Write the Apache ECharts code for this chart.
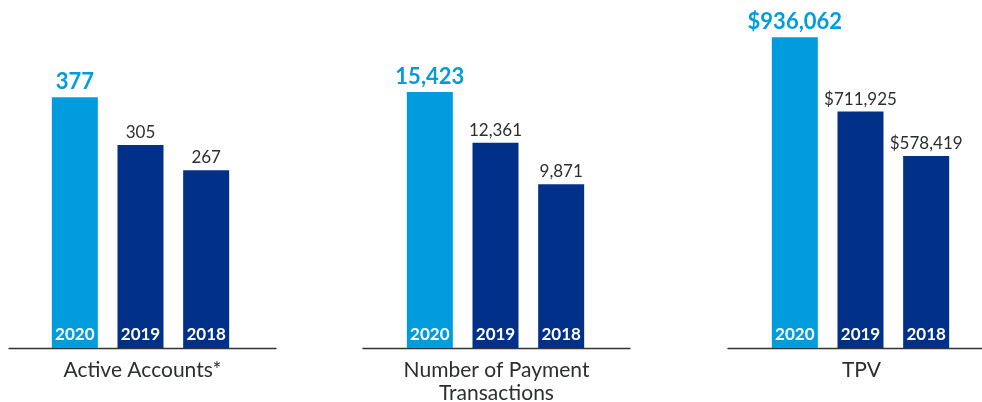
<!DOCTYPE html>
<html>
<head>
<meta charset="utf-8">
<script src="https://cdn.jsdelivr.net/npm/echarts@6/dist/echarts.min.js"></script>
<style>
  html, body { margin: 0; padding: 0; background: #fff; }
  #chart { width: 982px; height: 402px; }
</style>
</head>
<body>
<div id="chart"></div>
<script>
// data
const years = ['2020', '2019', '2018'];
const activeAccounts = [377, 305, 267];
const paymentTransactions = [15423, 12361, 9871];
const tpv = [936062, 711925, 578419];
const panelNames = ['Active Accounts*', 'Number of Payment\nTransactions', 'TPV'];
const valuePrefix = ['', '', '$'];
const axisMax = [508, 20360, 1018000];

const CYAN = '#009cde';
const NAVY = '#003087';
const TEXT = '#2c2e2f';
const FONT = 'Lato, "Open Sans", sans-serif';

const chart = echarts.init(document.getElementById('chart'));

const panels = [activeAccounts, paymentTransactions, tpv];
// bar grids and baseline grids, one pair per panel
const barLeft = [42, 397, 762];
const lineLeft = [9, 363, 728];

const grid = [];
const xAxis = [];
const yAxis = [];
const series = [];

panels.forEach((values, p) => {
  grid.push({ left: barLeft[p], width: 197, top: 10, bottom: 54, outerBoundsMode: 'none', containLabel: false });
  grid.push({ left: lineLeft[p], width: 267, top: 10, bottom: 54, outerBoundsMode: 'none', containLabel: false });

  xAxis.push({
    type: 'category',
    gridIndex: p * 2,
    data: years,
    axisLine: { show: false },
    axisTick: { show: false },
    axisLabel: {
      inside: true,
      margin: 5,
      color: '#fff',
      fontWeight: 'bold',
      fontSize: 17,
      fontFamily: FONT
    },
    z: 10
  });
  xAxis.push({
    type: 'category',
    gridIndex: p * 2 + 1,
    data: [''],
    axisLine: { show: true, lineStyle: { color: '#333', width: 1.3 } },
    axisTick: { show: false },
    axisLabel: { show: false },
    name: panelNames[p],
    nameLocation: 'middle',
    nameGap: 10,
    nameTextStyle: {
      color: TEXT,
      fontSize: 21,
      fontFamily: FONT,
      lineHeight: 23.5,
      verticalAlign: 'top'
    }
  });

  yAxis.push({ type: 'value', gridIndex: p * 2, min: 0, max: axisMax[p], show: false });
  yAxis.push({ type: 'value', gridIndex: p * 2 + 1, min: 0, max: 1, show: false });

  series.push({
    type: 'bar',
    xAxisIndex: p * 2,
    yAxisIndex: p * 2,
    barWidth: 46,
    data: values.map((v, i) => ({
      value: v,
      itemStyle: { color: i === 0 ? CYAN : NAVY },
      label: i === 0
        ? { color: CYAN, fontWeight: 'bold', fontSize: 22 }
        : { color: TEXT, fontWeight: 'normal', fontSize: 17 }
    })),
    label: {
      show: true,
      position: 'top',
      distance: 4,
      fontFamily: FONT,
      formatter: (c) => valuePrefix[p] + c.value.toLocaleString('en-US')
    }
  });
});

const option = {
  animation: false,
  backgroundColor: '#fff',
  grid: grid,
  xAxis: xAxis,
  yAxis: yAxis,
  series: series
};

chart.setOption(option);
</script>
</body>
</html>
